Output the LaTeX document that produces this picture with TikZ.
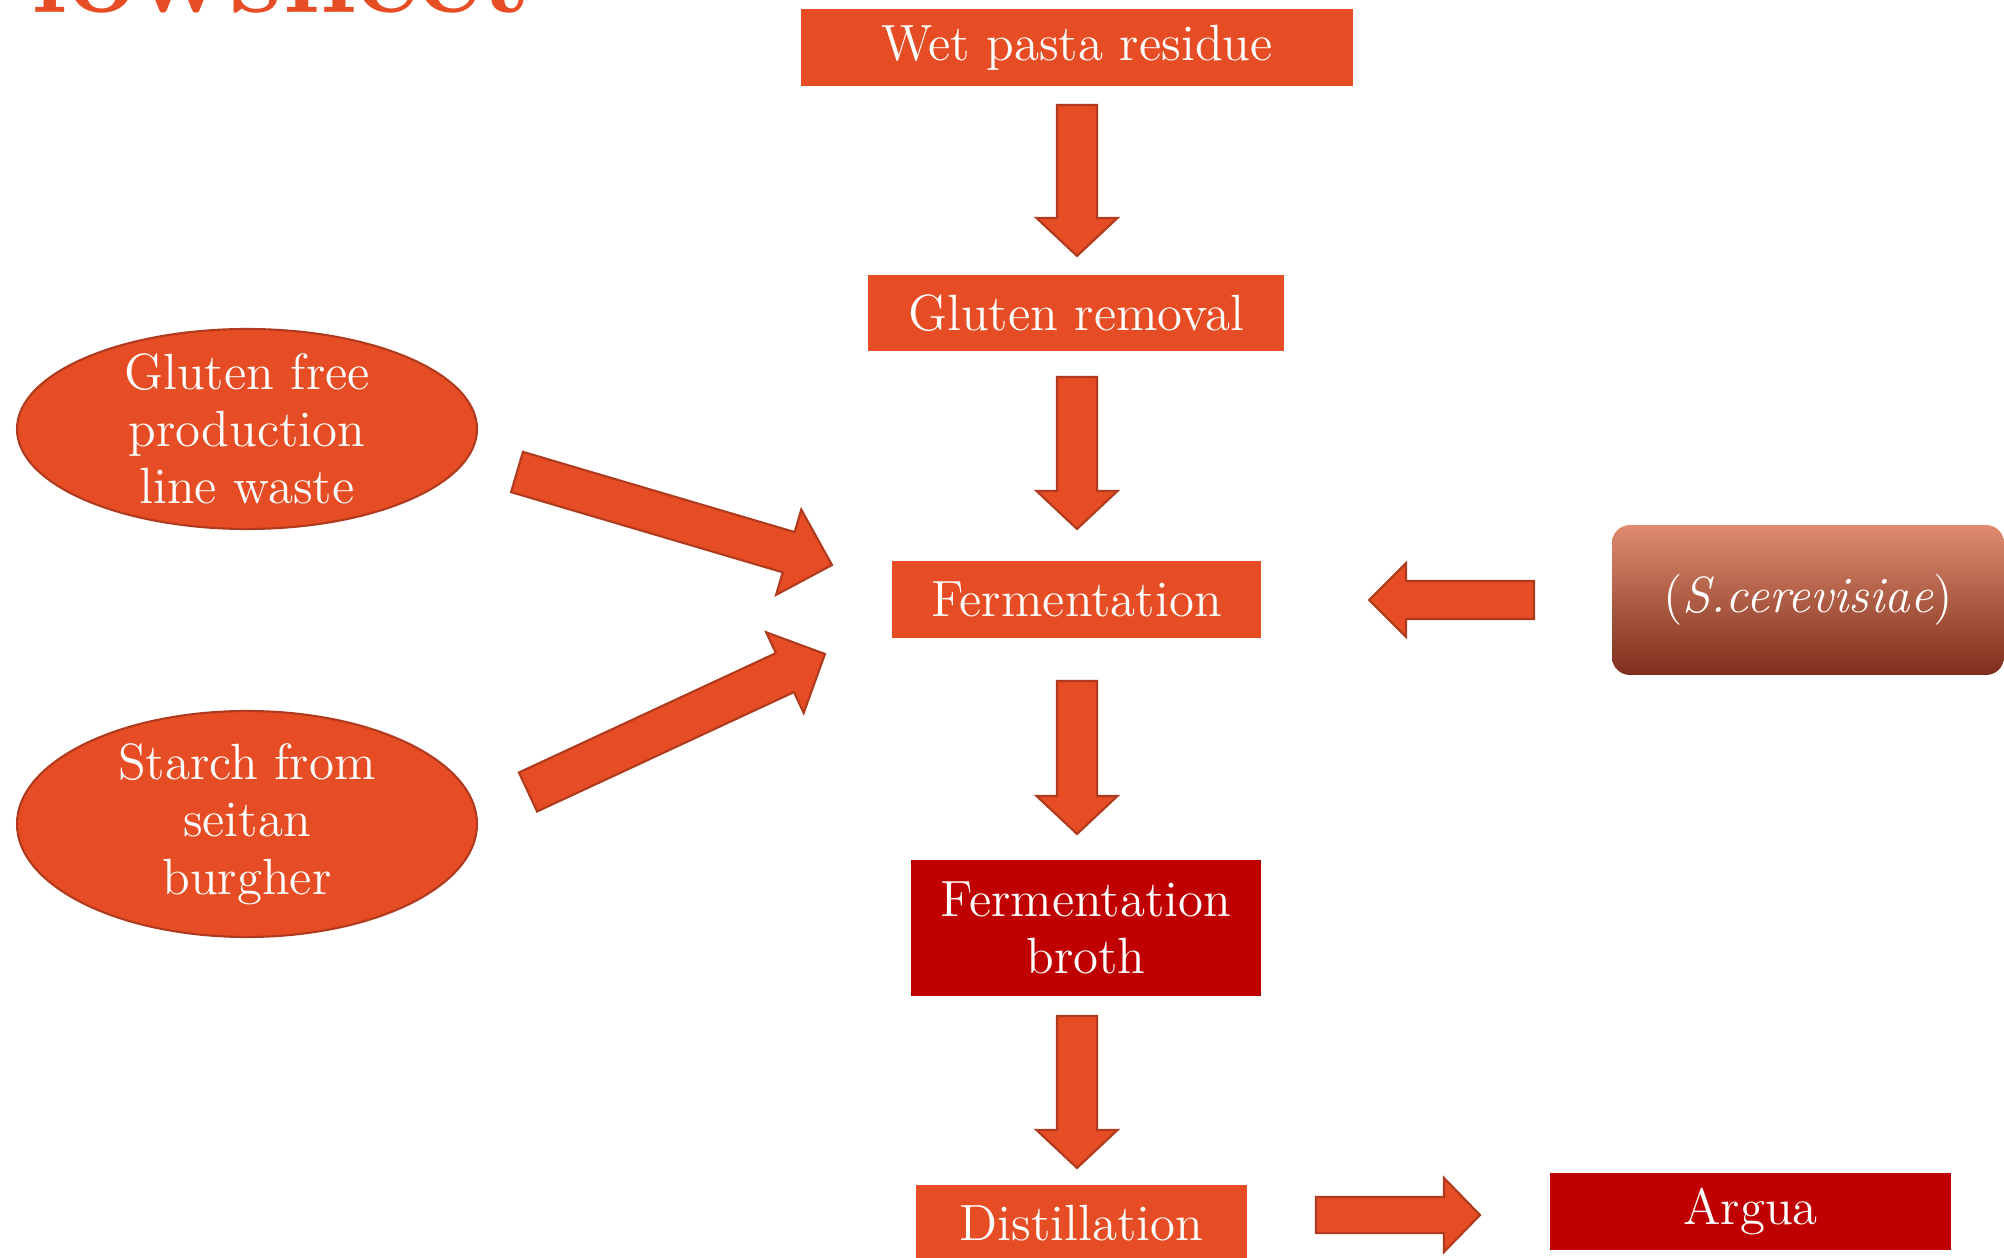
\documentclass[tikz,border=0pt]{standalone}
\usetikzlibrary{shapes.geometric,calc}

\definecolor{floworange}{RGB}{231,77,36}
\definecolor{flowedge}{RGB}{176,58,30}
\definecolor{flowred}{RGB}{192,0,0}
\definecolor{yeasttop}{RGB}{222,139,111}
\definecolor{yeastmid}{RGB}{188,74,39}
\definecolor{yeastbot}{RGB}{126,46,27}

\tikzset{every picture/.style={line width=0.75pt}}
\tikzset{
  flowtext/.style={text=white, inner sep=0pt, align=center, font=\fontsize{14.5}{16.3}\selectfont},
  stepbox/.style={flowtext, rectangle, fill=floworange},
  prodbox/.style={flowtext, rectangle, fill=flowred},
  feedblob/.style={flowtext, ellipse, fill=floworange, draw=flowedge, line width=0.6pt, inner ysep=-3mm},
  blockarrow/.style={fill=floworange, draw=flowedge, line width=0.6pt, line join=miter},
}

% fat arrow: from, to, half shaft, half head, head length (in px)
\newcommand{\fatarrow}[5]{%
  \draw[blockarrow] let \p1=(#1), \p2=(#2),
    \n1={atan2(\y2-\y1,\x2-\x1)},
    \n2={veclen(\x2-\x1,\y2-\y1)-#5*0.1mm},
    \n3={#3*0.1mm}, \n4={#4*0.1mm} in
    ($(\p1)+(\n1+90:\n3)$) -- ($(\p1)+(\n1:\n2)+(\n1+90:\n3)$)
    -- ($(\p1)+(\n1:\n2)+(\n1+90:\n4)$) -- (\p2)
    -- ($(\p1)+(\n1:\n2)+(\n1-90:\n4)$) -- ($(\p1)+(\n1:\n2)+(\n1-90:\n3)$)
    -- ($(\p1)+(\n1-90:\n3)$) -- cycle;}

\begin{document}
\begin{tikzpicture}[x=0.1mm,y=-0.1mm]
\useasboundingbox (0,0) rectangle (2004,1258);

% title, cut off at the top
\node[anchor=base east, inner sep=0pt, text=floworange, font=\fontsize{34}{34}\selectfont\bfseries] (title) at (533,13) {Flowsheet};

% main line
\node[stepbox, minimum width=55.2mm, minimum height=7.7mm] (wet) at (1077,47.5) {Wet pasta residue};
\node[stepbox, minimum width=41.6mm, minimum height=7.6mm] (gluten) at (1076,313) {Gluten removal};
\node[stepbox, minimum width=36.9mm, minimum height=7.7mm] (ferm) at (1076.5,599.5) {Fermentation};
\node[prodbox, minimum width=35mm, minimum height=13.6mm] (broth) at (1086,928) {Fermentation\\broth};
\node[stepbox, minimum width=33.1mm, minimum height=7.7mm] (dist) at (1081.5,1223.5) {Distillation};
\node[prodbox, minimum width=40.1mm, minimum height=7.7mm] (argua) at (1750.5,1211.5) {Argua};

% feeds
\node[feedblob, minimum width=46mm, minimum height=20mm] (freewaste) at (247,429) {Gluten free\\production\\line waste};
\node[feedblob, minimum width=46mm, minimum height=22.6mm] (starch) at (247,824) {Starch from\\seitan\\burgher};
\node[flowtext, rounded corners=1.8mm, top color=yeasttop, middle color=yeastmid, bottom color=yeastbot,
      minimum width=39.2mm, minimum height=15mm] (yeast) at (1808,600) {(\textit{S.cerevisiae})};

% arrow ends
\coordinate (a1s) at (1077,105);  \coordinate (a1e) at (1077,256);
\coordinate (a2s) at (1077,377);  \coordinate (a2e) at (1077,529);
\coordinate (a3s) at (1077,681);  \coordinate (a3e) at (1077,834);
\coordinate (a4s) at (1077,1016); \coordinate (a4e) at (1077,1168);
\coordinate (a5s) at (1316,1215); \coordinate (a5e) at (1480,1215);
\coordinate (y1s) at (1534,600);  \coordinate (y1e) at (1369,600);
\coordinate (f1s) at (517,472);   \coordinate (f1e) at (832,565);
\coordinate (f2s) at (528,792);   \coordinate (f2e) at (825,654);

\fatarrow{a1s}{a1e}{20}{40.5}{38}
\fatarrow{a2s}{a2e}{20}{40.5}{38}
\fatarrow{a3s}{a3e}{20}{40.5}{38}
\fatarrow{a4s}{a4e}{20}{40.5}{38}
\fatarrow{a5s}{a5e}{18}{37}{36}
\fatarrow{y1s}{y1e}{19}{37}{37}
\fatarrow{f1s}{f1e}{21}{44.5}{45}
\fatarrow{f2s}{f2e}{21.5}{44.5}{44}

\end{tikzpicture}
\end{document}
